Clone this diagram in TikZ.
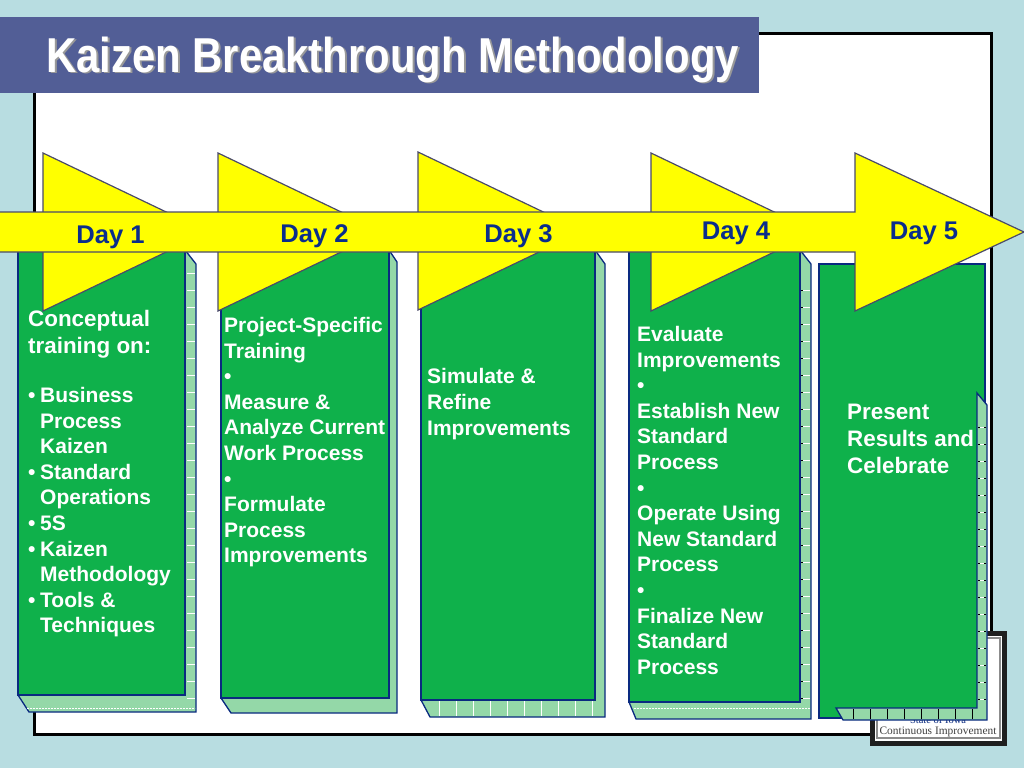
\documentclass[tikz,border=0pt]{standalone}
\usepackage{fontspec}
\usepackage{graphicx}
\setmainfont{Liberation Sans}
\newfontfamily\badgefont{Liberation Serif}
\usetikzlibrary{patterns}
\definecolor{bgblue}{HTML}{B8DDE1}
\definecolor{titlebar}{HTML}{525E96}
\definecolor{boxgreen}{HTML}{0FB14B}
\definecolor{sidegreen}{HTML}{94D8A8}
\definecolor{navy}{HTML}{0A2A80}
\definecolor{daytext}{HTML}{0A2D8C}
\definecolor{arrowline}{HTML}{4A4A6A}
\definecolor{pureyellow}{HTML}{FFFF00}
\tikzset{
  front/.style={fill=boxgreen,draw=navy,line width=1.3pt,line join=miter},
  sideface/.style={fill=sidegreen,draw=navy,line width=1.3pt,line join=miter},
  arrowpart/.style={fill=pureyellow,draw=arrowline,line width=1.2pt,line join=miter},
  daylabel/.style={inner sep=0pt,anchor=base,text=daytext,font=\fontsize{25.6}{30}\selectfont\bfseries},
  bodytext/.style={inner sep=0pt,anchor=north west,align=left,text=white,font=\fontsize{21}{25.6}\selectfont\bfseries},
  bigtext/.style={inner sep=0pt,anchor=north west,align=left,text=white,font=\fontsize{22.4}{27}\selectfont\bfseries},
  wtick/.style={draw=white,line width=0.7pt},
  ktick/.style={draw=black,line width=0.6pt},
  wdash/.style={draw=white,line width=0.8pt,dash pattern=on 2pt off 1pt}
}
\newcommand{\bul}[1]{\makebox[12pt][l]{•}#1}
\newcommand{\ind}[1]{\hspace*{12pt}#1}
\newcommand{\titletxt}{\scalebox{.854}[1]{\fontsize{49}{55}\selectfont\bfseries Kaizen Breakthrough Methodology}}
\begin{document}
\begin{tikzpicture}[x=1pt,y=-1pt]
\useasboundingbox (0,0) rectangle (1024,768);
\fill[bgblue] (0,0) rectangle (1024,768);
% frame
\draw[fill=white,draw=black,line width=3pt] (34,34) rectangle (991,734);
% badge
\fill[black!88] (870,631) rectangle (1007,746);
\fill[white] (875,636) rectangle (1002,741);
\draw[draw=black!45,line width=1.5pt] (877,638) rectangle (1000,738);
\node[inner sep=0pt,anchor=base,font=\badgefont\fontsize{10.5}{13}\selectfont,text=navy] (badgetop) at (938,723) {State of Iowa};
\node[inner sep=0pt,anchor=base,font=\badgefont\fontsize{11.4}{14}\selectfont,text=black!75] (badgebot) at (938,734) {Continuous Improvement};
% title bar
\fill[titlebar] (0,17) rectangle (759,93);
\node[inner sep=0pt,anchor=base west,text=black!40] (titleshadow) at (48,74) {\titletxt};
\node[inner sep=0pt,anchor=base west,text=white] (title) at (46,72) {\titletxt};
% box 1
\path[sideface] (185,250) -- (196,264) -- (196,712) -- (29,712) -- (18,695) -- cycle;
\foreach \y in {273,290,...,698} \draw[wtick] (187,\y) -- (195,\y);
\draw[wdash] (27,708) -- (195,708);
\draw[front] (18,245) rectangle (185,695);
% box 2
\path[sideface] (389,250) -- (397,262) -- (397,713) -- (231,713) -- (221,698) -- cycle;
\draw[front] (221,245) rectangle (389,698);
% box 3
\path[sideface] (595,250) -- (605,264) -- (605,717) -- (430,717) -- (421,700) -- cycle;
\foreach \x in {439,456,...,600} \draw[wtick] (\x,701) -- (\x,716);
\draw[front] (421,245) rectangle (595,700);
% box 4
\path[sideface] (800,250) -- (811,264) -- (811,719) -- (636,719) -- (629,702) -- cycle;
\foreach \y in {290,307,...,698} {\draw[ktick] (801,\y) -- (803,\y); \draw[wtick] (803,\y) -- (810,\y);}
\draw[wdash] (634,708) -- (810,708);
\draw[front] (629,245) rectangle (800,702);
% box 5
\draw[front] (819,264) rectangle (985,718);
\path[sideface] (977,393) -- (987,405) -- (987,720) -- (843,720) -- (836,708) -- (977,708) -- cycle;
\foreach \y in {427,444,...,705} {\draw[ktick] (978,\y) -- (980,\y); \draw[wtick] (980,\y) -- (984,\y); \draw[ktick] (984,\y) -- (986,\y);}
\foreach \x in {853,870,...,980} \draw[ktick] (\x,709) -- (\x,719);
% arrow heads
\path[arrowpart] (43,153) -- (208,232) -- (43,311) -- cycle;
\path[arrowpart] (218,153) -- (383,232) -- (218,311) -- cycle;
\path[arrowpart] (418,152) -- (583,231) -- (418,310) -- cycle;
\path[arrowpart] (651,153) -- (816,232) -- (651,311) -- cycle;
% band with last head
\path[arrowpart] (-5,212) -- (855,212) -- (855,153) -- (1024,232) -- (855,311) -- (855,252) -- (-5,252) -- cycle;
% day labels
\node[daylabel] (day1) at (110.5,243) {Day 1};
\node[daylabel] (day2) at (314.5,242) {Day 2};
\node[daylabel] (day3) at (518.5,242) {Day 3};
\node[daylabel] (day4) at (736,239) {Day 4};
\node[daylabel] (day5) at (924,239) {Day 5};
% texts
\node[bigtext] (concept) at (28,310) {Conceptual\\training on:};
\node[bodytext] (list1) at (28,387) {\bul{Business}\\\ind{Process}\\\ind{Kaizen}\\\bul{Standard}\\\ind{Operations}\\\bul{5S}\\\bul{Kaizen}\\\ind{Methodology}\\\bul{Tools \&}\\\ind{Techniques}};
\node[bodytext] (list2) at (224,317) {Project-Specific\\Training\\•\\Measure \&\\Analyze Current\\Work Process\\•\\Formulate\\Process\\Improvements};
\node[bodytext] (list3) at (427,368.5) {Simulate \&\\Refine\\Improvements};
\node[bodytext] (list4) at (637,326) {Evaluate\\Improvements\\•\\Establish New\\Standard\\Process\\•\\Operate Using\\New Standard\\Process\\•\\Finalize New\\Standard\\Process};
\node[bigtext] (list5) at (847,404) {Present\\Results and\\Celebrate};
\end{tikzpicture}
\end{document}
